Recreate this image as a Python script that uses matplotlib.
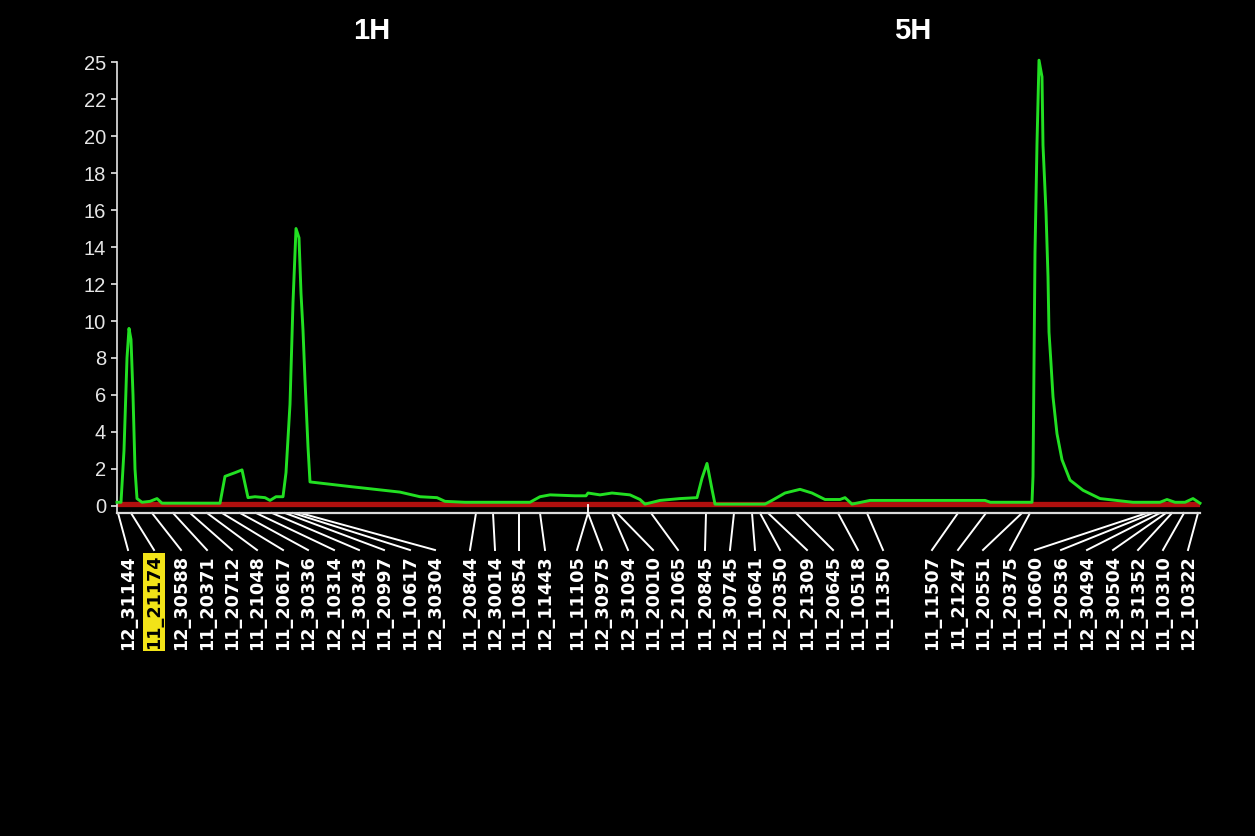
import numpy as np
import matplotlib.pyplot as plt
from matplotlib import transforms

# markers along the linkage groups, cumulative cM (1H then 5H)
markers = ["12_31144", "11_21174", "12_30588", "11_20371", "11_20712", "11_21048",
           "11_20617", "12_30336", "12_10314", "12_30343", "11_20997", "11_10617",
           "12_30304", "11_20844", "12_30014", "11_10854", "12_11443", "11_11105",
           "12_30975", "12_31094", "11_20010", "11_21065", "11_20845", "12_30745",
           "11_10641", "12_20350", "11_21309", "11_20645", "11_10518", "11_11350",
           "11_11507", "11_21247", "11_20551", "11_20375", "11_10600", "11_20536",
           "12_30494", "12_30504", "12_31352", "11_10310", "12_10322"]
marker_cm = [0.3, 4.2, 10.5, 16.8, 21.9, 27.0, 31.5, 36.9, 41.7, 46.5, 50.4, 52.8,
             54.9, 107.7, 112.8, 120.6, 126.9, 141.3,
             141.3, 148.5, 150.0, 160.2, 176.7, 185.1, 190.5, 192.9, 195.3, 203.7,
             216.3, 225.0, 252.3, 260.7, 271.5, 273.9, 309.0, 310.8, 312.9, 314.7,
             316.5, 320.1, 324.3]
highlight = "11_21174"

chrom_names = ["1H", "5H"]
chrom_title_cm = [76.5, 238.8]
chrom_break_cm = 141.3
map_end_cm = 324.9

# LOD profile of the trait (green)
lod_cm = [0.0, 1.2, 2.1, 3.0, 3.6, 4.2, 4.8, 5.4, 6.0, 7.5, 9.9, 12.0, 13.5,
          30.9, 32.4, 35.4, 37.5, 39.3, 41.4, 44.4, 45.9, 47.7, 49.8,
          50.7, 51.9, 52.8, 53.7, 54.6, 55.2, 55.8, 56.4, 57.3, 57.9,
          69.9, 84.9, 90.9, 96.0, 98.4, 104.4, 123.9, 126.9, 129.9, 137.4,
          140.7, 141.3, 144.9, 148.5, 153.9, 156.9, 158.4, 162.9, 168.9,
          174.0, 175.5, 177.0, 178.5, 179.4, 194.4, 196.5, 200.4, 204.9,
          208.5, 212.4, 216.9, 218.4, 220.5, 225.9, 260.4, 262.0, 274.5,
          274.8, 275.1, 275.4, 276.0, 276.6, 277.5, 277.8, 278.7, 279.3,
          279.6, 280.2, 280.8, 282.0, 283.5, 285.9, 289.8, 294.9, 304.8,
          312.9, 315.0, 317.4, 320.4, 322.8, 324.9]
lod_trait = [0.2, 0.2, 3.0, 8.0, 9.6, 9.0, 6.0, 2.0, 0.4, 0.2, 0.25, 0.4, 0.15,
             0.15, 1.6, 1.8, 1.95, 0.45, 0.5, 0.45, 0.3, 0.5, 0.5,
             1.8, 5.5, 11.0, 15.0, 14.5, 11.5, 9.5, 6.8, 3.2, 1.3,
             1.05, 0.75, 0.5, 0.45, 0.25, 0.2, 0.2, 0.5, 0.6, 0.55,
             0.55, 0.7, 0.6, 0.7, 0.6, 0.35, 0.1, 0.3, 0.4,
             0.45, 1.5, 2.3, 0.9, 0.1, 0.1, 0.3, 0.7, 0.9,
             0.7, 0.35, 0.35, 0.45, 0.1, 0.3, 0.3, 0.2, 0.2,
             1.6, 7.6, 13.7, 19.6, 24.1, 23.2, 19.5, 15.9, 12.4,
             9.4, 7.7, 5.9, 3.9, 2.5, 1.4, 0.85, 0.4, 0.2,
             0.2, 0.35, 0.2, 0.2, 0.4, 0.15]

# second trait, flat near zero (red)
ref_cm = [0.0, 141.3, 324.9]
ref_lod = [0.1, 0.1, 0.1]

yticks = [0, 2, 4, 6, 8, 10, 12, 14, 16, 18, 20, 22, 24]
yticklabels = ["0", "2", "4", "6", "8", "10", "12", "14", "16", "18", "20", "22", "25"]

W, H = 1255, 836
fig = plt.figure(figsize=(W / 100, H / 100), dpi=100, facecolor="black")
ax = fig.add_axes([117 / W, (H - 513) / H, 1083 / W, 452.8 / H])
ax.set_facecolor("black")

ax.plot(ref_cm, ref_lod, color="#b0100e", lw=3.8, solid_capstyle="butt", zorder=2)
ax.plot(lod_cm, lod_trait, color="#22e022", lw=2.1, zorder=3, clip_on=False)

ax.set_xlim(0, map_end_cm)
ax.set_ylim(-0.38, 24.1)
for s in ["top", "right"]:
    ax.spines[s].set_visible(False)
ax.spines["left"].set_color("#e6e6e6")
ax.spines["left"].set_linewidth(1.2)
ax.spines["left"].set_bounds(-0.38, 24.0)
ax.spines["bottom"].set_color("#dcdcdc")
ax.spines["bottom"].set_linewidth(1.6)
ax.set_xticks([])
ax.set_yticks(yticks)
ax.set_yticklabels(yticklabels, family="Liberation Sans")
ax.tick_params(axis="y", colors="#e6e6e6", length=4, width=1.2, pad=4, labelsize=14.5)

# chromosome break tick
y0 = -0.38
ax.plot([chrom_break_cm, chrom_break_cm], [y0, 0.05], color="white", lw=1.3,
        clip_on=False, zorder=4)

# label slots under the axis (cM), spread so labels don't overlap
label_cm = [3.3, 11.1, 19.2, 27.0, 34.5, 42.0, 49.8, 57.3, 65.1, 72.6, 80.1, 87.9,
            95.4, 105.9, 113.4, 120.6, 128.4, 138.0, 145.5, 153.3, 160.8, 168.3,
            176.4, 183.9, 191.4, 198.9, 207.0, 214.8, 222.3, 229.8, 244.5, 252.3,
            259.8, 267.9, 275.4, 283.2, 291.0, 298.8, 306.3, 313.8, 321.3]

y_link = -2.38
y_text = -2.65
for name, m, l in zip(markers, marker_cm, label_cm):
    ax.plot([m, l], [y0, y_link], color="white", lw=1.4, clip_on=False)
    if name == highlight:
        ax.text(l, y_text, name, rotation=90, ha="center", va="top", color="black",
                fontsize=12.7, fontweight="bold", family="DejaVu Sans",
                bbox=dict(facecolor="#f2e318", edgecolor="none", pad=1.2))
    else:
        ax.text(l, y_text, name, rotation=90, ha="center", va="top", color="white",
                fontsize=12.7, fontweight="bold", family="DejaVu Sans")

trans = transforms.blended_transform_factory(ax.transData, ax.transAxes)
for name, x in zip(chrom_names, chrom_title_cm):
    ax.text(x, (513 - 31) / 452.8, name, transform=trans, ha="center", va="center",
            color="white", fontsize=21, fontweight="bold", family="Liberation Sans")

fig.savefig("out.png", dpi=100, facecolor="black")
